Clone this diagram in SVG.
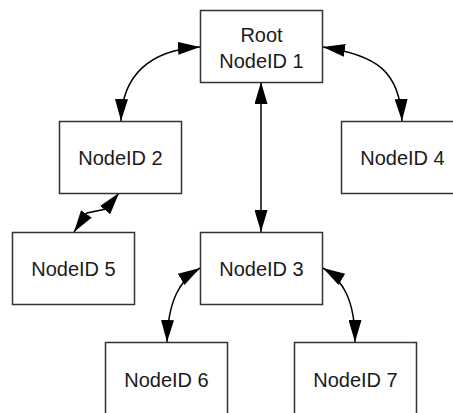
<svg xmlns="http://www.w3.org/2000/svg" width="453" height="413" viewBox="0 0 453 413">
<style>
.box{fill:#fff;stroke:#333;stroke-width:1.5}
.lbl{font-family:"Liberation Sans",Arial,sans-serif;font-size:20px;fill:#1a1a1a;text-anchor:middle}
.edge{fill:none;stroke:#000;stroke-width:1.5;marker-start:url(#ah);marker-end:url(#ah)}
</style>
<defs>
<marker id="ah" viewBox="0 0 22 13" refX="22" refY="6.5" markerWidth="22" markerHeight="13" markerUnits="userSpaceOnUse" orient="auto-start-reverse">
<path d="M0,0 L22,6.5 L0,13 Z" fill="#000"/>
</marker>
</defs>
<rect width="453" height="413" fill="#fff"/>
<g id="connectors">
<path class="edge" d="M121,121 C122,75 150,50 200,47"/>
<path class="edge" d="M323,47 C375,55 400,70 402,121"/>
<path class="edge" d="M261,82 L261,232"/>
<path class="edge" d="M74,232 L87,213 L106,209 L119,193"/>
<path class="edge" d="M200,268 C180,280 168,300 167,342"/>
<path class="edge" d="M323,268 C343,280 355,300 355,342"/>
</g>
<g id="node1"><rect class="box" x="200.5" y="10.5" width="122" height="72"/><text class="lbl" x="261.5" y="42">Root</text><text class="lbl" x="261.5" y="68">NodeID 1</text></g>
<g id="node2"><rect class="box" x="59.5" y="121.5" width="122" height="72"/><text class="lbl" x="120.5" y="165">NodeID 2</text></g>
<g id="node4"><rect class="box" x="341.5" y="121.5" width="122" height="72"/><text class="lbl" x="402.5" y="165">NodeID 4</text></g>
<g id="node5"><rect class="box" x="12.5" y="232.5" width="122" height="72"/><text class="lbl" x="73.5" y="276">NodeID 5</text></g>
<g id="node3"><rect class="box" x="200.5" y="232.5" width="122" height="72"/><text class="lbl" x="261.5" y="276">NodeID 3</text></g>
<g id="node6"><rect class="box" x="105.5" y="342.5" width="122" height="72"/><text class="lbl" x="166.5" y="387">NodeID 6</text></g>
<g id="node7"><rect class="box" x="294.5" y="342.5" width="122" height="72"/><text class="lbl" x="355.5" y="387">NodeID 7</text></g>
</svg>
